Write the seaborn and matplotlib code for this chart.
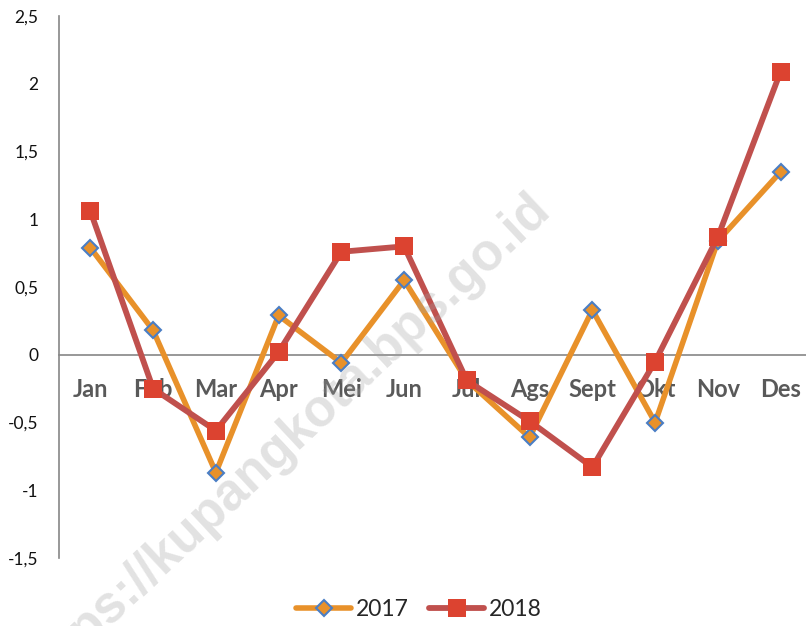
import matplotlib
matplotlib.use("Agg")
import matplotlib.pyplot as plt
import seaborn as sns
import pandas as pd
from matplotlib.lines import Line2D

months = ["Jan", "Feb", "Mar", "Apr", "Mei", "Jun", "Jul", "Ags", "Sept", "Okt", "Nov", "Des"]
v2017 = [0.79, 0.18, -0.87, 0.29, -0.06, 0.55, -0.19, -0.61, 0.33, -0.50, 0.84, 1.35]
v2018 = [1.06, -0.25, -0.56, 0.02, 0.76, 0.80, -0.19, -0.49, -0.83, -0.05, 0.87, 2.09]
yticks = [-1.5, -1, -0.5, 0, 0.5, 1, 1.5, 2, 2.5]
ytick_labels = ["-1,5", "-1", "-0,5", "0", "0,5", "1", "1,5", "2", "2,5"]

sns.set_style("white")
plt.rcParams['font.family'] = ['Lato', 'DejaVu Sans']

C17 = "#E8912A"
C17E = "#4A7EC5"
C18L = "#C0504D"
C18M = "#DC4330"
GRAY = "#868686"

df = pd.DataFrame({"pos": list(range(len(months))), "month": months,
                   "2017": v2017, "2018": v2018})

fig = plt.figure(figsize=(8.06, 6.26), dpi=100)
ax = fig.add_axes([59/806, 1 - 558/626, 753/806, (558 - 16)/626])

sns.lineplot(data=df, x="pos", y="2017", ax=ax, sort=False, color=C17, linewidth=4,
             marker="D", markersize=8, markerfacecolor=C17, markeredgecolor=C17E,
             markeredgewidth=1.5, zorder=3)
sns.lineplot(data=df, x="pos", y="2018", ax=ax, sort=False, color=C18L, linewidth=4.2,
             marker="s", markersize=13.5, markerfacecolor=C18M, markeredgecolor=C18M,
             markeredgewidth=0, zorder=4)

for s in ["top", "right"]:
    ax.spines[s].set_visible(False)
ax.spines["left"].set_color(GRAY)
ax.spines["left"].set_linewidth(1.2)
ax.spines["bottom"].set_position(("data", 0))
ax.spines["bottom"].set_color(GRAY)
ax.spines["bottom"].set_linewidth(1.2)

ax.set_xlim(-0.5, len(months) - 0.5)
ax.set_ylim(-1.5, 2.5)
ax.tick_params(axis="y", length=0, pad=15)
ax.tick_params(axis="x", length=0, pad=17)
ax.set_yticks(yticks)
ax.set_yticklabels(ytick_labels, fontsize=12.5, color="#111111")
ax.set_xticks(df["pos"])
ax.set_xticklabels(df["month"], fontsize=17, fontweight="bold", color="#595959")
ax.set_xlabel("")
ax.set_ylabel("")

handles = [
    Line2D([], [], color=C17, linewidth=4, marker="D", markersize=8,
           markerfacecolor=C17, markeredgecolor=C17E, markeredgewidth=1.5),
    Line2D([], [], color=C18L, linewidth=4.2, marker="s", markersize=13.5,
           markerfacecolor=C18M, markeredgecolor=C18M, markeredgewidth=0),
]
fig.legend(handles, ["2017", "2018"], loc="center", bbox_to_anchor=(419/806, 1 - 610/626),
           ncol=2, frameon=False, fontsize=16.5, handlelength=2.4, columnspacing=0.9,
           handletextpad=0.2)

fig.text(552/806, 1 - 212/626, "https://kupangkota.bps.go.id", rotation=43,
         rotation_mode="anchor", ha="right", va="baseline", fontsize=37,
         fontweight="bold", color="#a0a0a0", alpha=0.3, zorder=10,
         family=["Liberation Sans", "DejaVu Sans"])

fig.savefig("out.png", dpi=100)
